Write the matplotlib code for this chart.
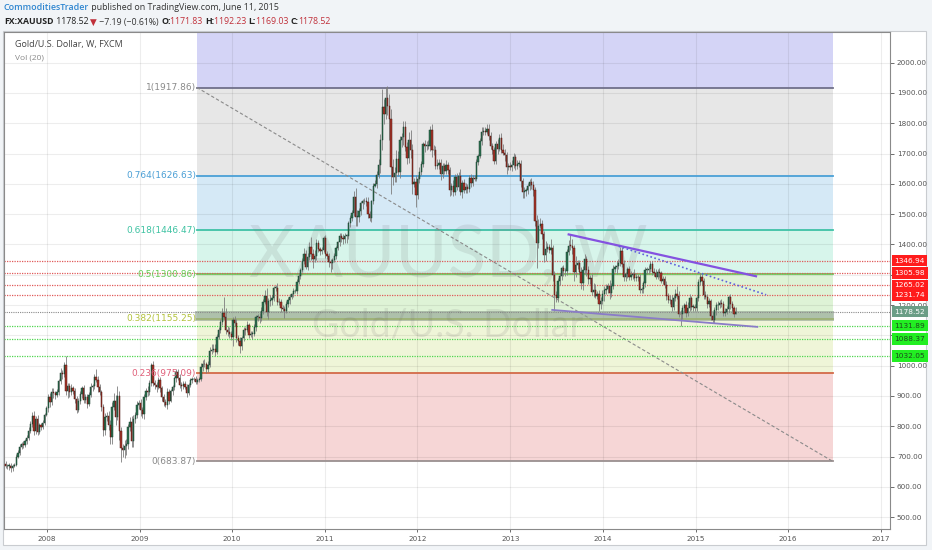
import matplotlib
matplotlib.use('Agg')
import matplotlib.pyplot as plt
import matplotlib.dates as mdates
import matplotlib.transforms as mtransforms
import pandas as pd
import numpy as np

# weekly closes (bars start week of 2007-07-23)
first_open = 676
closes_2007 = [668, 670, 670, 662, 670, 673, 700, 712, 732, 743, 738, 751, 762, 784, 806, 834,
               786, 823, 782, 803, 797, 811, 838, 859]
closes_2008 = [895, 881, 913, 910, 903, 912, 948, 975, 971, 1001, 918, 932, 912, 926, 917, 891,
               854, 883, 905, 925, 886, 898, 872, 904, 929, 932, 962, 954, 928, 912, 864, 788,
               829, 834, 803, 763, 865, 883, 832, 900, 784, 729, 722, 735, 741, 797, 815, 751,
               823, 836, 870, 878]
closes_2009 = [854, 839, 898, 918, 912, 943, 1003, 942, 937, 930, 954, 925, 895, 880, 870, 914,
               885, 915, 929, 958, 978, 960, 937, 932, 940, 931, 910, 937, 952, 955, 957, 947,
               953, 955, 996, 1007, 1004, 990, 1003, 1049, 1051, 1056, 1045, 1096, 1118, 1145,
               1175, 1161, 1118, 1110, 1104, 1096]
closes_2010 = [1152, 1140, 1091, 1083, 1065, 1091, 1119, 1118, 1134, 1102, 1105, 1105, 1126,
               1161, 1162, 1156, 1180, 1209, 1229, 1177, 1212, 1217, 1223, 1256, 1256, 1209,
               1210, 1189, 1188, 1181, 1204, 1216, 1227, 1235, 1246, 1246, 1275, 1297, 1317,
               1346, 1369, 1327, 1359, 1393, 1367, 1351, 1363, 1406, 1384, 1378, 1380, 1421]
closes_2011 = [1369, 1361, 1342, 1340, 1348, 1361, 1388, 1408, 1429, 1421, 1418, 1428, 1428,
               1472, 1487, 1505, 1556, 1491, 1492, 1509, 1536, 1542, 1544, 1540, 1500, 1486,
               1542, 1594, 1601, 1628, 1663, 1743, 1852, 1829, 1884, 1856, 1813, 1657, 1624,
               1636, 1682, 1640, 1743, 1753, 1788, 1723, 1684, 1746, 1710, 1598, 1606, 1564]
closes_2012 = [1616, 1640, 1664, 1731, 1725, 1725, 1725, 1777, 1710, 1711, 1659, 1662, 1669,
               1631, 1659, 1642, 1663, 1644, 1579, 1592, 1573, 1622, 1591, 1626, 1572, 1604,
               1579, 1590, 1583, 1618, 1604, 1620, 1616, 1671, 1691, 1740, 1772, 1774, 1771,
               1780, 1758, 1724, 1711, 1676, 1731, 1714, 1752, 1712, 1702, 1695, 1657, 1659, 1656]
closes_2013 = [1662, 1687, 1658, 1667, 1667, 1609, 1573, 1576, 1578, 1592, 1607, 1596, 1581,
               1476, 1404, 1462, 1468, 1435, 1364, 1386, 1392, 1383, 1387, 1298, 1234, 1223,
               1278, 1296, 1322, 1311, 1312, 1376, 1396, 1395, 1387, 1308, 1332, 1338, 1310,
               1272, 1315, 1352, 1315, 1287, 1288, 1244, 1250, 1230, 1235, 1203, 1212, 1237]
closes_2014 = [1250, 1252, 1264, 1240, 1262, 1318, 1324, 1330, 1339, 1379, 1335, 1294, 1302,
               1318, 1294, 1300, 1302, 1288, 1293, 1292, 1250, 1252, 1274, 1316, 1316, 1320,
               1337, 1310, 1306, 1293, 1310, 1305, 1280, 1287, 1267, 1230, 1216, 1218, 1192,
               1222, 1238, 1231, 1171, 1169, 1190, 1200, 1175, 1191, 1222, 1195, 1195, 1189]
closes_2015 = [1223, 1277, 1293, 1279, 1234, 1227, 1205, 1213, 1164, 1152, 1183, 1199, 1200,
               1207, 1203, 1175, 1178, 1188, 1225, 1204, 1189, 1171.83, 1178.52]

up_wick = [8, 6, 10, 9, 7, 6, 8, 10, 9, 6, 8, 7, 9, 12, 10, 12, 18, 10, 14, 9, 8, 10, 6, 9,
           10, 14, 12, 14, 8, 10, 9, 16, 12, 12, 31, 12, 10, 14, 8, 10, 8, 9, 10, 9, 12, 8, 10, 9, 14, 8,
           12, 26, 12, 10, 8, 10, 14, 12, 16, 18, 14, 26, 20, 34, 16, 12, 14, 20, 16, 12, 14, 18, 14, 12, 12, 10,
           12, 10, 10, 8, 14, 10, 5, 12, 10, 10, 8, 10, 8, 10, 10, 12, 10, 8, 8, 6, 10, 10, 12, 8, 8, 10,
           8, 6, 8, 6, 4, 8, 6, 6, 14, 12, 14, 8, 12, 12, 20, 16, 14, 8, 10, 8, 16, 51, 30, 14, 16, 10,
           10, 12, 14, 10, 12, 8, 10, 10, 12, 6, 8, 10, 10, 5, 10, 12, 14, 12, 20, 28, 12, 16, 10, 8, 9, 16,
           12, 10, 12, 10, 8, 12, 10, 6, 10, 8, 12, 8, 6, 10, 18, 12, 14, 14, 30, 18, 20, 12, 10, 8, 10, 6,
           10, 8, 12, 10, 8, 10, 8, 4, 10, 10, 12, 10, 8, 6, 10, 8, 19, 30, 20, 10, 6, 8, 10, 12, 16, 10,
           6, 8, 10, 14, 18, 20, 61, 27, 36, 40, 40, 34, 25, 20, 30, 25, 16, 14, 20, 20, 16, 25, 30, 20, 14, 24,
           12, 14, 10, 8, 12, 16, 20, 14, 20, 16, 14, 20, 12, 14, 10, 10, 14, 10, 12, 10, 20, 10, 14, 14, 24, 10,
           12, 14, 10, 10, 16, 10, 10, 12, 8, 10, 16, 12, 14, 16, 16, 12, 12, 10, 10, 18, 12, 16, 18, 12, 10, 10, 12,
           16, 14, 10, 12, 12, 12, 10, 12, 8, 12, 10, 12, 12, 10, 20, 22, 20, 12, 10, 24, 14, 10, 30, 10, 14, 12,
           10, 10, 8, 10, 10, 10, 20, 38, 22, 12, 30, 12, 10, 16, 14, 16, 10, 14, 12, 14, 24, 20, 10, 14, 16, 12,
           14, 18, 10, 20, 10, 14, 8, 14, 12, 13, 13, 12, 8, 8, 12, 12, 8, 16, 12, 8, 12, 6, 6, 8, 10, 12,
           8, 8, 12, 12, 10, 12, 8, 10, 10, 12, 10, 14, 14, 12, 14, 24, 14, 12, 10, 8, 14, 20, 14, 8, 10, 10,
           8, 8, 14, 12, 10, 12, 8, 10, 8, 12, 10, 12, 14, 10, 12, 10, 12, 8, 8, 12, 10, 8, 14]
dn_wick = [6, 8, 14, 12, 8, 6, 4, 6, 8, 7, 9, 6, 8, 6, 7, 9, 14, 12, 10, 8, 9, 6, 7, 5,
           12, 16, 10, 18, 12, 8, 10, 8, 14, 9, 14, 26, 16, 8, 12, 14, 10, 8, 10, 12, 8, 10, 12, 6, 8, 12,
           10, 8, 14, 10, 12, 20, 16, 12, 14, 22, 20, 12, 28, 12, 30, 48, 22, 26, 30, 16, 14, 18, 20, 12, 10, 14,
           20, 12, 14, 10, 12, 8, 10, 8, 14, 16, 6, 12, 10, 12, 5, 14, 10, 6, 12, 10, 12, 8, 12, 14, 10, 8,
           14, 8, 6, 8, 6, 8, 8, 8, 4, 14, 8, 14, 12, 6, 10, 6, 14, 6, 8, 10, 10, 8, 14, 12, 12, 10,
           30, 10, 14, 14, 22, 12, 10, 16, 8, 10, 8, 16, 6, 12, 14, 14, 8, 10, 6, 14, 22, 14, 16, 8, 10, 10,
           8, 12, 6, 24, 6, 10, 12, 8, 10, 6, 10, 6, 12, 8, 10, 8, 12, 12, 18, 30, 10, 16, 10, 12, 8, 6,
           14, 10, 16, 32, 22, 6, 10, 8, 12, 12, 16, 12, 22, 10, 14, 10, 10, 30, 30, 18, 12, 20, 10, 14, 14, 10,
           12, 10, 6, 14, 8, 28, 30, 32, 14, 30, 70, 89, 28, 18, 30, 14, 20, 22, 26, 16, 20, 14, 26, 30, 10, 42,
           14, 12, 10, 8, 20, 12, 10, 16, 22, 14, 10, 10, 14, 20, 12, 8, 10, 10, 20, 16, 12, 10, 12, 16, 10, 20,
           10, 8, 12, 10, 14, 10, 8, 8, 10, 6, 12, 10, 10, 8, 14, 8, 12, 10, 12, 14, 6, 10, 8, 20, 26, 10, 12,
           14, 10, 14, 10, 12, 20, 20, 20, 16, 12, 12, 14, 20, 14, 83, 16, 8, 16, 22, 18, 10, 12, 14, 20, 54, 14,
           12, 12, 14, 14, 14, 14, 12, 14, 18, 30, 14, 14, 8, 20, 22, 12, 18, 16, 16, 10, 16, 8, 10, 24, 16, 10,
           24, 12, 12, 20, 14, 10, 8, 20, 12, 10, 10, 16, 14, 14, 12, 10, 14, 10, 10, 14, 10, 10, 12, 14, 12, 14,
           12, 10, 10, 8, 8, 12, 6, 10, 12, 14, 10, 14, 12, 8, 8, 12, 10, 38, 14, 16, 14, 12, 10, 10, 16, 10,
           10, 10, 12, 12, 14, 8, 16, 12, 12, 10, 10, 16, 14, 10, 10, 12, 12, 8, 10, 16, 10, 10, 3]

fib_ratios = ['1', '0.764', '0.618', '0.5', '0.382', '0.236', '0']
fib_prices = [1917.86, 1626.63, 1446.47, 1300.86, 1155.25, 975.09, 683.87]
fib_above = 2209.86
red_levels = [1346.94, 1305.98, 1265.02, 1231.74]
green_levels = [1131.89, 1088.37, 1032.05]
last_price = 1178.52
price_ticks = [500, 600, 700, 800, 900, 1000, 1200, 1400, 1500, 1600, 1700, 1800, 1900, 2000]

closes = (closes_2007 + closes_2008 + closes_2009 + closes_2010 + closes_2011 +
          closes_2012 + closes_2013 + closes_2014 + closes_2015)
n = min(len(closes), len(up_wick), len(dn_wick))
closes = np.array(closes[:n], dtype=float)
opens = np.concatenate([[first_open], closes[:-1]])
highs = np.maximum(opens, closes) + np.array(up_wick[:n])
lows = np.minimum(opens, closes) - np.array(dn_wick[:n])
dates = pd.date_range('2007-07-23', periods=n, freq='W-MON')
x = mdates.date2num(dates)

W, H = 932, 550
fig = plt.figure(figsize=(W / 100, H / 100), dpi=100, facecolor='#f1f4f7')
# white chart container behind the axes
fig.patches.append(plt.Rectangle((3 / W, 1 - 545 / H), 923 / W, 514 / H, transform=fig.transFigure,
                                 facecolor='white', edgecolor='#c9ccd0', linewidth=0.8, zorder=-10))
ax = fig.add_axes([4 / W, 1 - 529 / H, 886 / W, 497 / H])
ax.set_zorder(1)
ax.set_facecolor('white')
ax.set_xlim(mdates.datestr2num('2007-07-17'), mdates.datestr2num('2017-02-05'))
ax.set_ylim(461, 2101)
ax.set_axisbelow('line')
ax.yaxis.tick_right()
ax.set_yticks(price_ticks)
ax.set_yticks([1100, 1300], minor=True)
ax.yaxis.set_major_formatter(plt.FuncFormatter(lambda v, p: '%.2f' % v))
ax.xaxis.set_major_locator(mdates.YearLocator())
ax.xaxis.set_major_formatter(mdates.DateFormatter('%Y'))
ax.grid(True, which='both', color='black', alpha=0.07, linewidth=0.8)
ax.tick_params(axis='y', which='both', labelsize=5.2, colors='#555555', length=3, width=0.6, pad=2)
ax.tick_params(axis='x', labelsize=5.2, colors='#555555', length=2, width=0.6, pad=3)
for s in ax.spines.values():
    s.set_color('#8a8a8a')
    s.set_linewidth(0.8)

# fibonacci retracement block
f0 = mdates.datestr2num('2009-08-15')
f1 = mdates.datestr2num('2016-06-25')
zone_colors = ['#d4d4f6', '#e7e7e7', '#d5e9f6', '#d7f5eb', '#def3d6', '#eff5d8', '#f6d6d6']
line_colors = ['#70708a', '#4aa0d6', '#3fc2a6', '#68cc5a', '#b1c94a', '#d36a48', '#9a9090']
label_colors = ['#8a8a8a', '#4a9fd5', '#3ec2a2', '#66cc55', '#b3c23c', '#e0607a', '#8a8a8a']
tops = [fib_above] + fib_prices[:-1]
for top, bot, col in zip(tops, fib_prices, zone_colors):
    ax.fill_between([f0, f1], bot, top, color=col, linewidth=0, zorder=1)
for r, p, lc, tc in zip(fib_ratios, fib_prices, line_colors, label_colors):
    ax.plot([f0, f1], [p, p], color=lc, linewidth=1.3, zorder=2)
    ax.text(f0 - 3, p, '%s(%.2f)' % (r, p), color=tc, fontsize=6.5, ha='right', va='center', zorder=5)
ax.plot([f0, f1], [fib_prices[0], fib_prices[-1]], color='#8a8a8a', linewidth=0.8,
        linestyle=(0, (3, 2)), zorder=2)

# user drawn band
ax.fill_between([mdates.datestr2num('2009-08-08'), mdates.datestr2num('2016-06-28')], 1148, 1182,
                color='#8fa08f', alpha=0.6, linewidth=0, zorder=2)

# horizontal levels
for p in red_levels:
    ax.axhline(p, color='#e05a5a', linewidth=0.9, linestyle=(0, (1, 1)), zorder=2)
for p in green_levels:
    ax.axhline(p, color='#4fd64f', linewidth=0.9, linestyle=(0, (1, 1)), zorder=2)
ax.axhline(last_price, color='#8a8a8a', linewidth=0.8, linestyle=(0, (1, 1)), zorder=2)

# watermark
ax.text(0.501, 0.547, 'XAUUSD, W', transform=ax.transAxes, fontsize=51, family='Lato',
        color='#707070', alpha=0.14, ha='center', va='center', zorder=2)
ax.text(0.501, 0.41, 'Gold/U.S. Dollar', transform=ax.transAxes, fontsize=27, family='Lato',
        color='#707070', alpha=0.14, ha='center', va='center', zorder=2)

# candles
up = closes >= opens
ax.vlines(x, lows, highs, color='#7d7d7d', linewidth=0.6, zorder=3)
body = np.maximum(np.abs(closes - opens), 2)
ax.bar(x[up], body[up], bottom=opens[up], width=5, color='#2b7050',
       edgecolor='#1c3f2f', linewidth=0.35, zorder=4)
ax.bar(x[~up], body[~up], bottom=closes[~up], width=5, color='#a8362a',
       edgecolor='#4a1812', linewidth=0.35, zorder=4)

# triangle trend lines
ax.plot(mdates.datestr2num(['2013-08-19', '2015-08-27']), [1433, 1295],
        color='#8452e0', linewidth=1.6, zorder=5)
ax.plot(mdates.datestr2num(['2013-06-15', '2015-09-01']), [1184, 1128],
        color='#8a7cc8', linewidth=1.3, zorder=5)
ax.plot(mdates.datestr2num(['2014-03-04', '2015-10-06']), [1394, 1234],
        color='#6060dc', linewidth=1.2, linestyle=(0, (1, 1.5)), zorder=5)

# price labels on the scale
blend = mtransforms.blended_transform_factory(ax.transAxes, ax.transData)
box = dict(boxstyle='square,pad=0.36', edgecolor='none')
for p in red_levels:
    ax.text(1.005, p, '%.2f' % p, transform=blend, fontsize=5.3, color='white', ha='left', va='center',
            clip_on=False, zorder=6, bbox=dict(box, facecolor='#ff1c1c'))
for p in green_levels:
    ax.text(1.005, p, '%.2f' % p, transform=blend, fontsize=5.3, color='#1e4a1e', ha='left', va='center',
            clip_on=False, zorder=6, bbox=dict(box, facecolor='#22ee22'))
ax.text(1.005, last_price, '%.2f' % last_price, transform=blend, fontsize=5.3, color='white', ha='left',
        va='center', clip_on=False, zorder=6, bbox=dict(box, facecolor='#6b9d86'))

ax.text(11 / 886, 1 - 13 / 497, 'Gold/U.S. Dollar, W, FXCM', transform=ax.transAxes, fontsize=6.5,
        color='#444444', ha='left', va='center', family='Open Sans', zorder=6)
ax.text(11 / 886, 1 - 26 / 497, 'Vol (20)', transform=ax.transAxes, fontsize=6,
        color='#888888', ha='left', va='center', family='Open Sans', zorder=6)

# header text, drawn piece by piece
renderer = fig.canvas.get_renderer()


def chain(px, py, parts, size):
    for s, color, weight in parts:
        t = fig.text(px / W, 1 - py / H, s, color=color, fontsize=size, fontweight=weight,
                     family=['Open Sans', 'DejaVu Sans'], ha='left', va='center')
        px += t.get_window_extent(renderer).width


chain(4, 7.5, [('CommoditiesTrader', '#2f86d0', 'semibold'),
               (' published on TradingView.com, June 11, 2015', '#333333', 'normal')], 6.4)
red = '#c0303a'
chain(4, 22, [('FX:XAUUSD', '#222222', 'bold'), (' 1178.52 ', '#222222', 'normal'),
              ('\u25bc', red, 'normal'), (' \u22127.19 (\u22120.61%) ', '#333333', 'normal'),
              ('O:', '#222222', 'bold'), ('1171.83 ', red, 'normal'),
              ('H:', '#222222', 'bold'), ('1192.23 ', red, 'normal'),
              ('L:', '#222222', 'bold'), ('1169.03 ', red, 'normal'),
              ('C:', '#222222', 'bold'), ('1178.52', red, 'normal')], 6.3)

plt.savefig('out.png', dpi=100, facecolor=fig.get_facecolor())
